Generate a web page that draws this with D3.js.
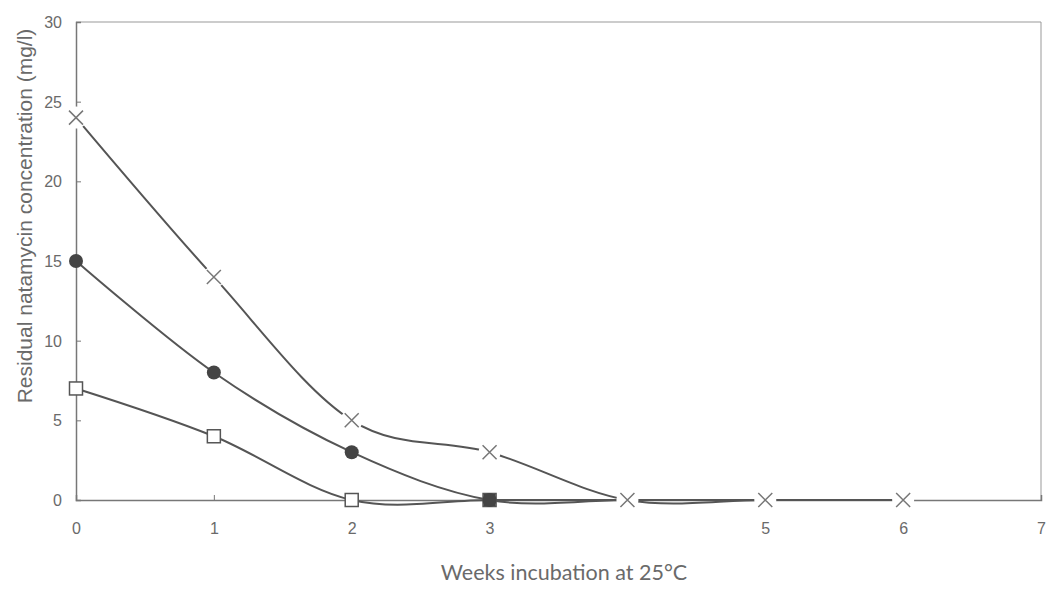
<!DOCTYPE html>
<html>
<head>
<meta charset="utf-8">
<script src="https://cdn.jsdelivr.net/npm/d3@7"></script>
<style>
  body { margin: 0; background: #fff; }
  svg { display: block; }
</style>
</head>
<body>
<svg id="chart" width="1048" height="589"></svg>
<script>
// data
const weeks = [0, 1, 2, 3, 4, 5, 6];
const crossValues = [24, 14, 5, 3, 0, 0, 0];
const circleValues = [15, 8, 3, 0, 0, 0];
const squareValues = [7, 4, 0, 0, 0, 0];
const xTicks = [0, 1, 2, 3, 4, 5, 6, 7];
const xTickLabels = ['0', '1', '2', '3', '', '5', '6', '7'];
const yTicks = [0, 5, 10, 15, 20, 25, 30];

const svg = d3.select('#chart');
const plotLeft = 76, plotRight = 1041, plotTop = 22, plotBottom = 500;

const x = d3.scaleLinear().domain([0, 7]).range([plotLeft, plotRight]);
const y = d3.scaleLinear().domain([0, 30]).range([plotBottom, plotTop]);

const lineColor = '#555';
const textColor = '#6a6a6a';

// frame (top and right, faint)
svg.append('path')
  .attr('d', `M${plotLeft},${plotTop}H${plotRight}V${plotBottom}`)
  .attr('fill', 'none')
  .attr('stroke', '#999')
  .attr('stroke-width', 1);

// axes
const xAxis = d3.axisBottom(x)
  .tickValues(xTicks)
  .tickSize(-5)
  .tickFormat((d, i) => xTickLabels[i]);

const yAxis = d3.axisLeft(y)
  .tickValues(yTicks)
  .tickSize(-5);

const gx = svg.append('g')
  .attr('transform', `translate(0,${plotBottom})`)
  .call(xAxis)
  .attr('font-size', null)
  .attr('font-family', null);
gx.select('.domain').attr('stroke', '#777').attr('stroke-width', 1.5);
gx.selectAll('.tick line').attr('stroke', '#777');
gx.selectAll('.tick text')
  .attr('dy', 0)
  .attr('y', 34)
  .attr('fill', textColor)
  .style('font-family', 'Liberation Sans, Arial, sans-serif')
  .style('font-size', '16px');

const gy = svg.append('g')
  .attr('transform', `translate(${plotLeft},0)`)
  .call(yAxis)
  .attr('font-size', null)
  .attr('font-family', null);
gy.select('.domain').attr('stroke', '#777').attr('stroke-width', 1.5);
gy.selectAll('.tick line').attr('stroke', '#777');
gy.selectAll('.tick text')
  .attr('x', -14)
  .attr('dy', '0.35em')
  .attr('fill', textColor)
  .style('font-family', 'Liberation Sans, Arial, sans-serif')
  .style('font-size', '16px');

// axis titles
svg.append('text')
  .attr('transform', 'translate(32,216) rotate(-90)')
  .attr('text-anchor', 'middle')
  .attr('fill', textColor)
  .style('font-family', 'Liberation Sans, Arial, sans-serif')
  .style('font-size', '21px')
  .text('Residual natamycin concentration (mg/l)');

svg.append('text')
  .attr('x', 564)
  .attr('y', 580)
  .attr('text-anchor', 'middle')
  .attr('fill', textColor)
  .style('font-family', 'Lato, Open Sans, sans-serif')
  .style('font-size', '21.5px')
  .text('Weeks incubation at 25°C');

// smoothed lines
const line = d3.line()
  .x((d, i) => x(weeks[i]))
  .y(d => y(d))
  .curve(d3.curveCardinal.tension(0));

const series = [
  { name: 'square', values: squareValues },
  { name: 'circle', values: circleValues },
  { name: 'cross', values: crossValues }
];

svg.append('g')
  .selectAll('path')
  .data(series)
  .enter().append('path')
  .attr('d', d => line(d.values))
  .attr('fill', 'none')
  .attr('stroke', lineColor)
  .attr('stroke-width', 2);

// markers
const pts = vals => vals.map((v, i) => ({ x: weeks[i], y: v }));

// crosses with white background gap
const crosses = svg.append('g')
  .selectAll('g')
  .data(pts(crossValues))
  .enter().append('g')
  .attr('transform', d => `translate(${x(d.x)},${y(d.y)})`);
crosses.append('circle')
  .attr('r', 11)
  .attr('fill', '#fff');
crosses.append('path')
  .attr('d', 'M-7,-7L7,7M-7,7L7,-7')
  .attr('stroke', '#777')
  .attr('stroke-width', 1.5);

// open squares (later ones sit under the crosses)
svg.append('g')
  .selectAll('rect')
  .data(pts(squareValues).slice(0, 4))
  .enter().append('rect')
  .attr('x', d => x(d.x) - 6.5)
  .attr('y', d => y(d.y) - 6.5)
  .attr('width', 13)
  .attr('height', 13)
  .attr('fill', '#fff')
  .attr('stroke', '#555')
  .attr('stroke-width', 1.5);

// filled circles
svg.append('g')
  .selectAll('circle')
  .data(pts(circleValues).slice(0, 4))
  .enter().append('circle')
  .attr('cx', d => x(d.x))
  .attr('cy', d => y(d.y))
  .attr('r', 7)
  .attr('fill', '#444');

// the overlapping marker at week 3 reads as a filled square
svg.append('rect')
  .datum({ x: weeks[3], y: circleValues[3] })
  .attr('x', d => x(d.x) - 6)
  .attr('y', d => y(d.y) - 6)
  .attr('width', 12)
  .attr('height', 12)
  .attr('fill', '#444');
</script>
</body>
</html>
